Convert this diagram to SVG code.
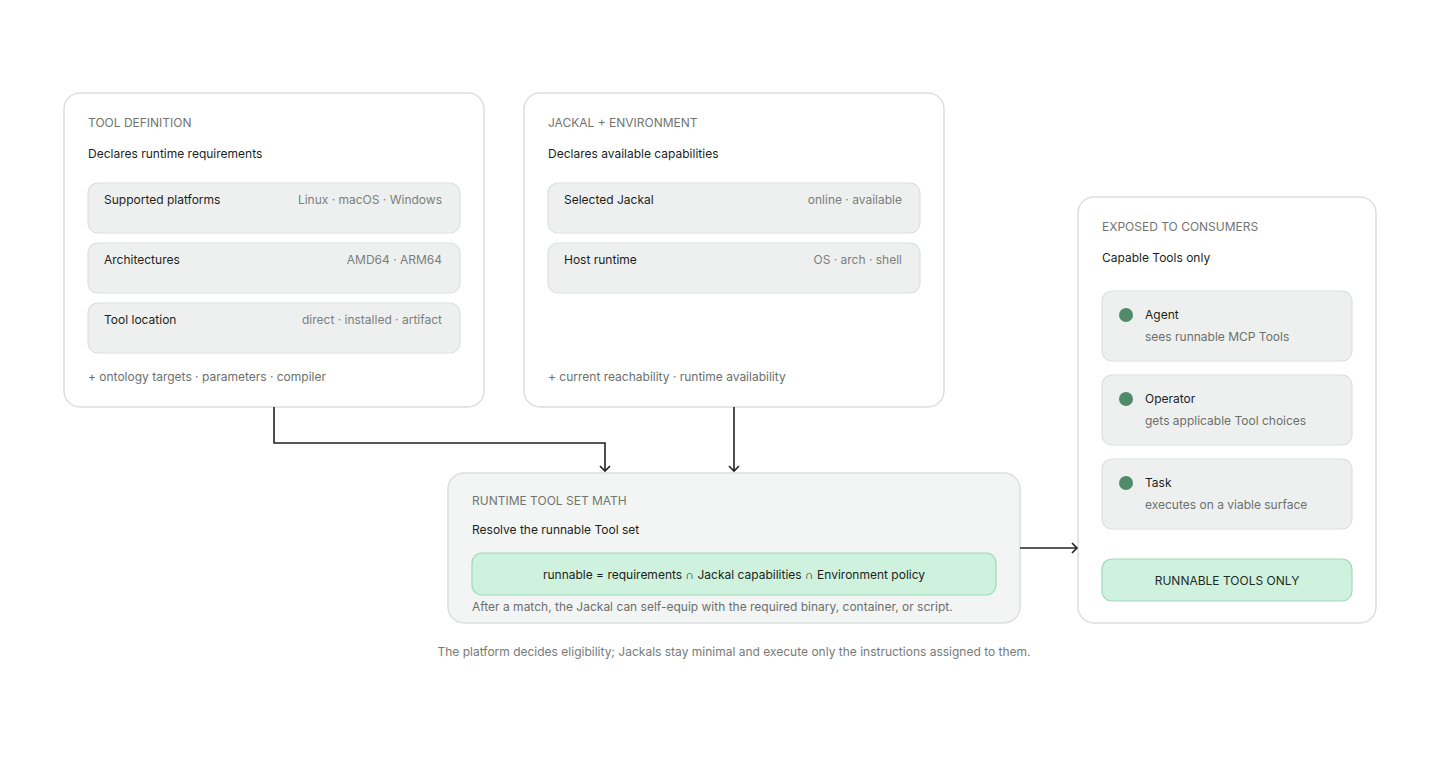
<svg xmlns="http://www.w3.org/2000/svg" width="1440" height="760" viewBox="0 0 1440 760">
<defs>
<marker id="arr" markerWidth="12" markerHeight="12" refX="6" refY="6" orient="auto" markerUnits="userSpaceOnUse">
<path d="M1,1 L6,6 L1,11" fill="none" stroke="#222" stroke-width="1.6"/>
</marker>
</defs>
<style>
text{font-family:Inter,"Noto Sans","Liberation Sans",sans-serif;}
.card{fill:#fff;stroke:#dcdfdd;stroke-width:1.5;}
.cardc{fill:#f3f5f4;stroke:#dcdfdd;stroke-width:1.5;}
.row{fill:#eef0ef;stroke:#dcdfdd;stroke-width:1.2;}
.green{fill:#cff2de;stroke:#9fd8b8;stroke-width:1.2;}
.title{font-size:12px;fill:#707572;}
.sub{font-size:12px;fill:#1c1f1d;}
.lbl{font-size:12px;fill:#1c1f1d;}
.val{font-size:12px;fill:#7a7f7c;text-anchor:end;}
.foot{font-size:12px;fill:#6b706d;}
.dot{fill:#4f8a6a;}
.conn{fill:none;stroke:#222;stroke-width:1.6;}
</style>
<rect width="1440" height="760" fill="#fff"/>

<g id="tool-definition">
<rect class="card" x="64" y="93" width="420" height="314" rx="16"/>
<text class="title" x="88" y="127">TOOL DEFINITION</text>
<text class="sub" x="88" y="158">Declares runtime requirements</text>
<rect class="row" x="88" y="183" width="372" height="50" rx="10"/>
<text class="lbl" x="104" y="204">Supported platforms</text>
<text class="val" x="442" y="204">Linux · macOS · Windows</text>
<rect class="row" x="88" y="243" width="372" height="50" rx="10"/>
<text class="lbl" x="104" y="264">Architectures</text>
<text class="val" x="442" y="264">AMD64 · ARM64</text>
<rect class="row" x="88" y="303" width="372" height="50" rx="10"/>
<text class="lbl" x="104" y="324">Tool location</text>
<text class="val" x="442" y="324">direct · installed · artifact</text>
<text class="foot" x="88" y="381">+ ontology targets · parameters · compiler</text>
</g>

<g id="jackal-environment">
<rect class="card" x="524" y="93" width="420" height="314" rx="16"/>
<text class="title" x="548" y="127">JACKAL + ENVIRONMENT</text>
<text class="sub" x="548" y="158">Declares available capabilities</text>
<rect class="row" x="548" y="183" width="372" height="50" rx="10"/>
<text class="lbl" x="564" y="204">Selected Jackal</text>
<text class="val" x="902" y="204">online · available</text>
<rect class="row" x="548" y="243" width="372" height="50" rx="10"/>
<text class="lbl" x="564" y="264">Host runtime</text>
<text class="val" x="902" y="264">OS · arch · shell</text>
<text class="foot" x="548" y="381">+ current reachability · runtime availability</text>
</g>

<g id="runtime-tool-set-math">
<rect class="cardc" x="448" y="473" width="572" height="150" rx="16"/>
<text class="title" x="472" y="505">RUNTIME TOOL SET MATH</text>
<text class="sub" x="472" y="534">Resolve the runnable Tool set</text>
<rect class="green" x="472" y="553" width="524" height="42" rx="10"/>
<text class="lbl" x="734" y="579" text-anchor="middle">runnable = requirements ∩ Jackal capabilities ∩ Environment policy</text>
<text class="foot" x="472" y="611">After a match, the Jackal can self-equip with the required binary, container, or script.</text>
</g>

<g id="exposed-to-consumers">
<rect class="card" x="1078" y="197" width="298" height="426" rx="16"/>
<text class="title" x="1102" y="231">EXPOSED TO CONSUMERS</text>
<text class="sub" x="1102" y="262">Capable Tools only</text>
<rect class="row" x="1102" y="291" width="250" height="70" rx="10"/>
<circle class="dot" cx="1126" cy="315" r="7"/>
<text class="lbl" x="1145" y="319">Agent</text>
<text class="foot" x="1145" y="341">sees runnable MCP Tools</text>
<rect class="row" x="1102" y="375" width="250" height="70" rx="10"/>
<circle class="dot" cx="1126" cy="399" r="7"/>
<text class="lbl" x="1145" y="403">Operator</text>
<text class="foot" x="1145" y="425">gets applicable Tool choices</text>
<rect class="row" x="1102" y="459" width="250" height="70" rx="10"/>
<circle class="dot" cx="1126" cy="483" r="7"/>
<text class="lbl" x="1145" y="487">Task</text>
<text class="foot" x="1145" y="509">executes on a viable surface</text>
<rect class="green" x="1102" y="559" width="250" height="42" rx="10"/>
<text class="lbl" x="1227" y="585" text-anchor="middle" style="fill:#1f2a24">RUNNABLE TOOLS ONLY</text>
</g>

<text class="foot" x="734" y="656" text-anchor="middle" style="fill:#777b78">The platform decides eligibility; Jackals stay minimal and execute only the instructions assigned to them.</text>

<g id="connectors">
<path class="conn" d="M274,407 V443 H605 V471" marker-end="url(#arr)"/>
<path class="conn" d="M734,407 V471" marker-end="url(#arr)"/>
<path class="conn" d="M1020,548 H1077" marker-end="url(#arr)"/>
</g>
</svg>
